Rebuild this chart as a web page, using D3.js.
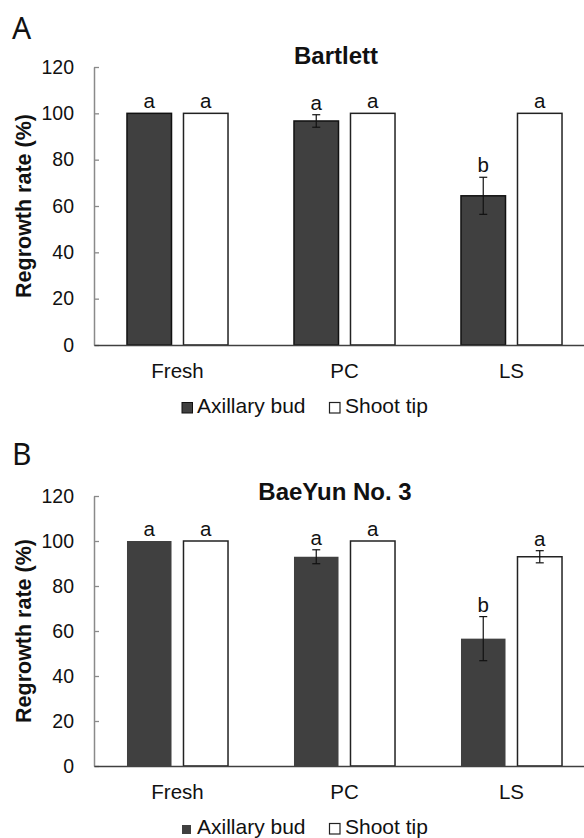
<!DOCTYPE html>
<html>
<script src='https://cdn.jsdelivr.net/npm/d3@7/dist/d3.min.js'></script>
<style>
 body {margin:0; background:#fff;}
 text {font-family: "Liberation Sans", Arial, sans-serif; fill:#111;}
</style>
<body onload='init()'>
<svg width=584 height=838></svg>
<script>

// data
var categories = ['Fresh', 'PC', 'LS'];
var series = ['Axillary bud', 'Shoot tip'];
var yTicks = [0, 20, 40, 60, 80, 100, 120];

var bartlettAxillary = [100, 96.7, 64.4];
var bartlettAxillaryErr = [0, 2.7, 8.0];
var bartlettShoot = [100, 100, 100];
var bartlettShootErr = [0, 0, 0];
var bartlettAxillaryLetters = ['a', 'a', 'b'];
var bartlettShootLetters = ['a', 'a', 'a'];

var baeyunAxillary = [100, 93.0, 56.6];
var baeyunAxillaryErr = [0, 3.1, 9.8];
var baeyunShoot = [100, 100, 93.0];
var baeyunShootErr = [0, 0, 2.7];
var baeyunAxillaryLetters = ['a', 'a', 'b'];
var baeyunShootLetters = ['a', 'a', 'a'];

var dark = '#404040';

function drawPanel(svg, p) {
 var left = 94, step = 167;
 var x0 = d3.scaleBand().domain(categories)
   .range([left, left + step * categories.length])
   .paddingInner(0.395).paddingOuter(0.1975);
 var x1 = d3.scaleBand().domain(series)
   .range([0, x0.bandwidth()]).paddingInner(0.212);
 var y = d3.scaleLinear().domain([0, 120]).range([p.bottom, p.top]);

 // panel letter
 svg.append('text')
  .attr('x', 12).attr('y', p.letterY)
  .style('font-family', '"Noto Sans", sans-serif')
  .style('font-size', '30px')
  .text(p.letter);

 // title
 svg.append('text')
  .attr('x', p.titleX).attr('y', p.titleY)
  .attr('text-anchor', 'middle')
  .style('font-weight', 'bold').style('font-size', '24px')
  .text(p.title);

 // y axis
 var ya = svg.append('g')
  .attr('transform', 'translate(' + left + ',0)')
  .call(d3.axisLeft(y).tickValues(yTicks).tickSizeInner(-5).tickSizeOuter(0).tickPadding(20));
 ya.select('.domain').attr('stroke', '#8a8a8a').attr('stroke-width', 1.5);
 ya.selectAll('.tick line').attr('stroke', '#8a8a8a').attr('stroke-width', 1.3);
 ya.selectAll('.tick text').style('font-size', '19.5px')
  .style('font-family', '"Liberation Sans", Arial, sans-serif').attr('fill', '#111');

 // y title
 svg.append('text')
  .attr('transform', 'translate(31,' + ((p.top + p.bottom) / 2) + ') rotate(-90)')
  .attr('text-anchor', 'middle')
  .style('font-weight', 'bold').style('font-size', '21.5px')
  .text('Regrowth rate (%)');

 var rows = categories.map(function (c, i) {
  return [
   {cat: c, s: series[0], v: p.ax[i], e: p.axErr[i], l: p.axL[i]},
   {cat: c, s: series[1], v: p.sh[i], e: p.shErr[i], l: p.shL[i]}
  ];
 }).flat();

 var g = svg.append('g');
 g.selectAll('rect').data(rows).enter().append('rect')
  .attr('x', function (d) { return x0(d.cat) + x1(d.s); })
  .attr('y', function (d) { return y(d.v); })
  .attr('width', x1.bandwidth())
  .attr('height', function (d) { return y(0) - y(d.v); })
  .attr('fill', function (d) { return d.s == series[0] ? dark : '#fff'; })
  .attr('stroke', function (d) { return d.s == series[0] ? p.axStroke : '#222'; })
  .attr('stroke-width', 1.5);

 // error bars
 var eb = rows.filter(function (d) { return d.e > 0; });
 var cx = function (d) { return x0(d.cat) + x1(d.s) + x1.bandwidth() / 2; };
 g.selectAll('line.err').data(eb).enter().append('line')
  .attr('x1', cx).attr('x2', cx)
  .attr('y1', function (d) { return y(d.v + d.e); })
  .attr('y2', function (d) { return y(d.v - d.e); })
  .attr('stroke', '#111').attr('stroke-width', 1.2);
 [1, -1].forEach(function (sgn) {
  g.selectAll('line.cap' + sgn).data(eb).enter().append('line')
   .attr('x1', function (d) { return cx(d) - 4; })
   .attr('x2', function (d) { return cx(d) + 4; })
   .attr('y1', function (d) { return y(d.v + sgn * d.e); })
   .attr('y2', function (d) { return y(d.v + sgn * d.e); })
   .attr('stroke', '#111').attr('stroke-width', 1.2);
 });

 // significance letters
 g.selectAll('text.sig').data(rows).enter().append('text')
  .attr('x', cx)
  .attr('y', function (d) { return y(d.v + d.e) - 5; })
  .attr('text-anchor', 'middle')
  .style('font-size', '20.5px')
  .text(function (d) { return d.l; });

 // x axis
 var xa = svg.append('g')
  .attr('transform', 'translate(0,' + p.bottom + ')')
  .call(d3.axisBottom(x0).tickSize(0).tickSizeOuter(0).tickPadding(18));
 xa.select('.domain').attr('stroke', dark).attr('stroke-width', 1.5);
 xa.selectAll('.tick text').style('font-size', '20.5px')
  .style('font-family', '"Liberation Sans", Arial, sans-serif').attr('fill', '#111');

 // legend
 var ly = p.bottom + 68;
 svg.append('rect')
  .attr('x', p.axBox.x).attr('y', ly - p.axBox.s).attr('width', p.axBox.s).attr('height', p.axBox.s)
  .attr('fill', dark).attr('stroke', p.axStroke).attr('stroke-width', 1);
 svg.append('text').attr('x', 197).attr('y', ly)
  .style('font-size', '21px').text(series[0]);
 svg.append('rect')
  .attr('x', 329.5).attr('y', ly - 10.5).attr('width', 10.5).attr('height', 10.5)
  .attr('fill', '#fff').attr('stroke', '#222').attr('stroke-width', 1.2);
 svg.append('text').attr('x', 345).attr('y', ly)
  .style('font-size', '21px').text(series[1]);
}

function init() {
 var svg = d3.select('svg');

 drawPanel(svg, {
  letter: 'A', letterY: 39, title: 'Bartlett', titleX: 336, titleY: 63.5,
  top: 67, bottom: 345,
  ax: bartlettAxillary, axErr: bartlettAxillaryErr, axL: bartlettAxillaryLetters,
  sh: bartlettShoot, shErr: bartlettShootErr, shL: bartlettShootLetters,
  axStroke: '#111', axBox: {x: 182, s: 10.5}
 });

 drawPanel(svg, {
  letter: 'B', letterY: 465, title: 'BaeYun No. 3', titleX: 335, titleY: 499.5,
  top: 496, bottom: 766,
  ax: baeyunAxillary, axErr: baeyunAxillaryErr, axL: baeyunAxillaryLetters,
  sh: baeyunShoot, shErr: baeyunShootErr, shL: baeyunShootLetters,
  axStroke: 'none', axBox: {x: 182, s: 9}
 });
}

</script>
</body>
</html>
